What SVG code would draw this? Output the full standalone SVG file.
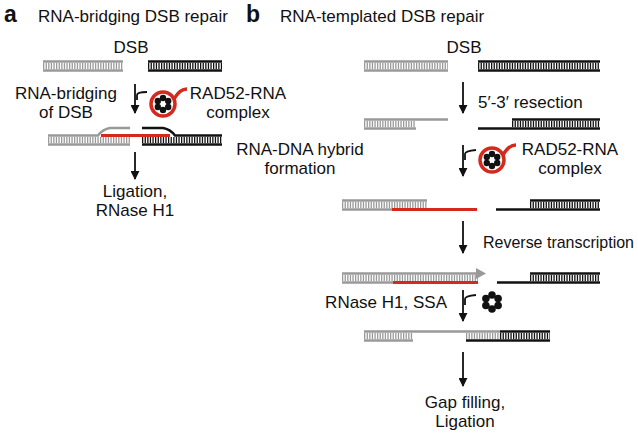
<svg xmlns="http://www.w3.org/2000/svg" width="638" height="433" viewBox="0 0 638 433">
<defs>
<marker id="ah" viewBox="0 0 10 10" refX="9" refY="5" markerWidth="5" markerHeight="5" orient="auto"><path d="M0,0 L10,5 L0,10 z" fill="#111"/></marker>
<g id="rad"><circle r="12" fill="none" stroke="#d42a1e" stroke-width="3.5"/><path d="M11,-5 C15,-12 19,-15 24,-15" fill="none" stroke="#d42a1e" stroke-width="3.5"/>
<g fill="#111"><circle cx="0" cy="-6" r="3.2"/><circle cx="5.2" cy="-3" r="3.2"/><circle cx="5.2" cy="3" r="3.2"/><circle cx="0" cy="6" r="3.2"/><circle cx="-5.2" cy="3" r="3.2"/><circle cx="-5.2" cy="-3" r="3.2"/></g></g>
<g id="ring" fill="#111"><circle cx="0" cy="-7" r="3.8"/><circle cx="6.1" cy="-3.5" r="3.8"/><circle cx="6.1" cy="3.5" r="3.8"/><circle cx="0" cy="7" r="3.8"/><circle cx="-6.1" cy="3.5" r="3.8"/><circle cx="-6.1" cy="-3.5" r="3.8"/></g>
</defs>
<style>
text{font-family:"Liberation Sans",Arial,sans-serif;font-size:17px;fill:#111}
.h{font-weight:bold;font-size:23px}
.c{text-anchor:middle}
.g{stroke:#999;fill:none;stroke-width:2.5}
.k{stroke:#111;fill:none;stroke-width:2.5}
.r{stroke:#d42a1e;fill:none;stroke-width:3}
.gr{stroke:#999;stroke-width:6;stroke-dasharray:1.3 1.3;fill:none}
.kr{stroke:#111;stroke-width:6;stroke-dasharray:1.3 1.3;fill:none}
.ar{stroke:#111;stroke-width:1.8;fill:none}
</style>
<g id="labels">
<text x="4" y="22" class="h">a</text>
<text x="38" y="22">RNA-bridging DSB repair</text>
<text x="131" y="53" class="c">DSB</text>
<text x="66" y="99" class="c">RNA-bridging</text>
<text x="66" y="118" class="c">of DSB</text>
<text x="238" y="99" class="c">RAD52-RNA</text>
<text x="238" y="118" class="c">complex</text>
<text x="135" y="197" class="c">Ligation,</text>
<text x="135" y="216" class="c">RNase H1</text>
<text x="246" y="22" class="h">b</text>
<text x="280" y="22">RNA-templated DSB repair</text>
<text x="464" y="53" class="c">DSB</text>
<text x="478" y="108">5′-3′ resection</text>
<text x="300" y="155" class="c">RNA-DNA hybrid</text>
<text x="300" y="174" class="c">formation</text>
<text x="570" y="155" class="c">RAD52-RNA</text>
<text x="570" y="174" class="c">complex</text>
<text x="483" y="248" textLength="151" lengthAdjust="spacingAndGlyphs">Reverse transcription</text>
<text x="447" y="308" text-anchor="end">RNase H1, SSA</text>
<text x="465" y="408" class="c">Gap filling,</text>
<text x="465" y="427" class="c">Ligation</text>
</g>
<g id="dna-a1"><line class="gr" x1="43" y1="66" x2="123" y2="66"/><line class="g" x1="43" y1="61.5" x2="123" y2="61.5"/><line class="g" x1="43" y1="70.5" x2="123" y2="70.5"/>
<line class="kr" x1="148" y1="66" x2="222" y2="66"/><line class="k" x1="148" y1="61.5" x2="222" y2="61.5"/><line class="k" x1="148" y1="70.5" x2="222" y2="70.5"/></g>
<g id="dna-a2"><line class="gr" x1="48" y1="140" x2="130" y2="140"/><path class="g" d="M48,135.5 H98 Q103,129 110,128 H130"/><line class="g" x1="48" y1="144.5" x2="130" y2="144.5"/>
<line class="r" x1="101" y1="135.5" x2="170" y2="135.5"/>
<line class="kr" x1="142" y1="140" x2="222" y2="140"/><path class="k" d="M142,128 H163 Q170,129 175,135.5 H222"/><line class="k" x1="142" y1="144.5" x2="222" y2="144.5"/></g>
<g id="b1"><line class="gr" x1="364" y1="66" x2="448" y2="66"/><line class="g" x1="364" y1="61.5" x2="448" y2="61.5"/><line class="g" x1="364" y1="70.5" x2="448" y2="70.5"/>
<line class="kr" x1="478" y1="66" x2="600" y2="66"/><line class="k" x1="478" y1="61.5" x2="600" y2="61.5"/><line class="k" x1="478" y1="70.5" x2="600" y2="70.5"/></g>
<g id="b2"><line class="gr" x1="364" y1="124" x2="416" y2="124"/><line class="g" x1="364" y1="119.5" x2="448" y2="119.5"/><line class="g" x1="364" y1="128.5" x2="416" y2="128.5"/>
<line class="kr" x1="512" y1="124" x2="600" y2="124"/><line class="k" x1="512" y1="119.5" x2="600" y2="119.5"/><line class="k" x1="478" y1="128.5" x2="600" y2="128.5"/></g>
<g id="b3"><line class="gr" x1="342" y1="205" x2="427" y2="205"/><line class="g" x1="342" y1="200.5" x2="427" y2="200.5"/><line class="g" x1="342" y1="209.5" x2="392" y2="209.5"/><line class="r" x1="392" y1="209.5" x2="477" y2="209.5"/>
<line class="kr" x1="530" y1="205" x2="600" y2="205"/><line class="k" x1="530" y1="200.5" x2="600" y2="200.5"/><line class="k" x1="496" y1="209.5" x2="600" y2="209.5"/></g>
<g id="b4"><line class="gr" x1="342" y1="278" x2="478" y2="278"/><line class="g" x1="342" y1="273.5" x2="478" y2="273.5"/><path d="M476,268 L486,273.5 L476,279 z" fill="#999"/><line class="g" x1="342" y1="282.5" x2="393" y2="282.5"/><line class="r" x1="393" y1="282.5" x2="478" y2="282.5"/>
<line class="kr" x1="530" y1="278" x2="600" y2="278"/><line class="k" x1="530" y1="273.5" x2="600" y2="273.5"/><line class="k" x1="497" y1="282.5" x2="600" y2="282.5"/></g>
<g id="b5"><line class="gr" x1="364" y1="336" x2="413" y2="336"/><line class="gr" x1="466" y1="336" x2="500" y2="336"/><line class="kr" x1="500" y1="336" x2="550" y2="336"/>
<line class="g" x1="364" y1="331.5" x2="500" y2="331.5"/><line class="k" x1="500" y1="331.5" x2="550" y2="331.5"/><line class="g" x1="364" y1="340.5" x2="413" y2="340.5"/><line class="k" x1="466" y1="340.5" x2="550" y2="340.5"/></g>
<g id="connectors">
<line class="ar" x1="135" y1="84" x2="135" y2="113" marker-end="url(#ah)"/><path class="ar" d="M137,100 V95 Q137,92 147,92"/>
<line class="ar" x1="135" y1="152" x2="135" y2="179" marker-end="url(#ah)"/>
<line class="ar" x1="463" y1="82" x2="463" y2="113" marker-end="url(#ah)"/>
<line class="ar" x1="463" y1="145" x2="463" y2="176" marker-end="url(#ah)"/><path class="ar" d="M465,160 V154 Q465,151 476,150"/>
<line class="ar" x1="463" y1="221" x2="463" y2="253" marker-end="url(#ah)"/>
<line class="ar" x1="463" y1="290" x2="463" y2="321" marker-end="url(#ah)"/><path class="ar" d="M465,305 V299 Q465,296 476,295"/>
<line class="ar" x1="463" y1="352" x2="463" y2="386" marker-end="url(#ah)"/>
</g>
<g id="rad52-a"><use href="#rad" x="163" y="104"/></g>
<g id="rad52-b"><use href="#rad" x="492" y="160"/></g>
<g id="rad52-ring"><use href="#ring" x="492" y="302"/></g>
</svg>
